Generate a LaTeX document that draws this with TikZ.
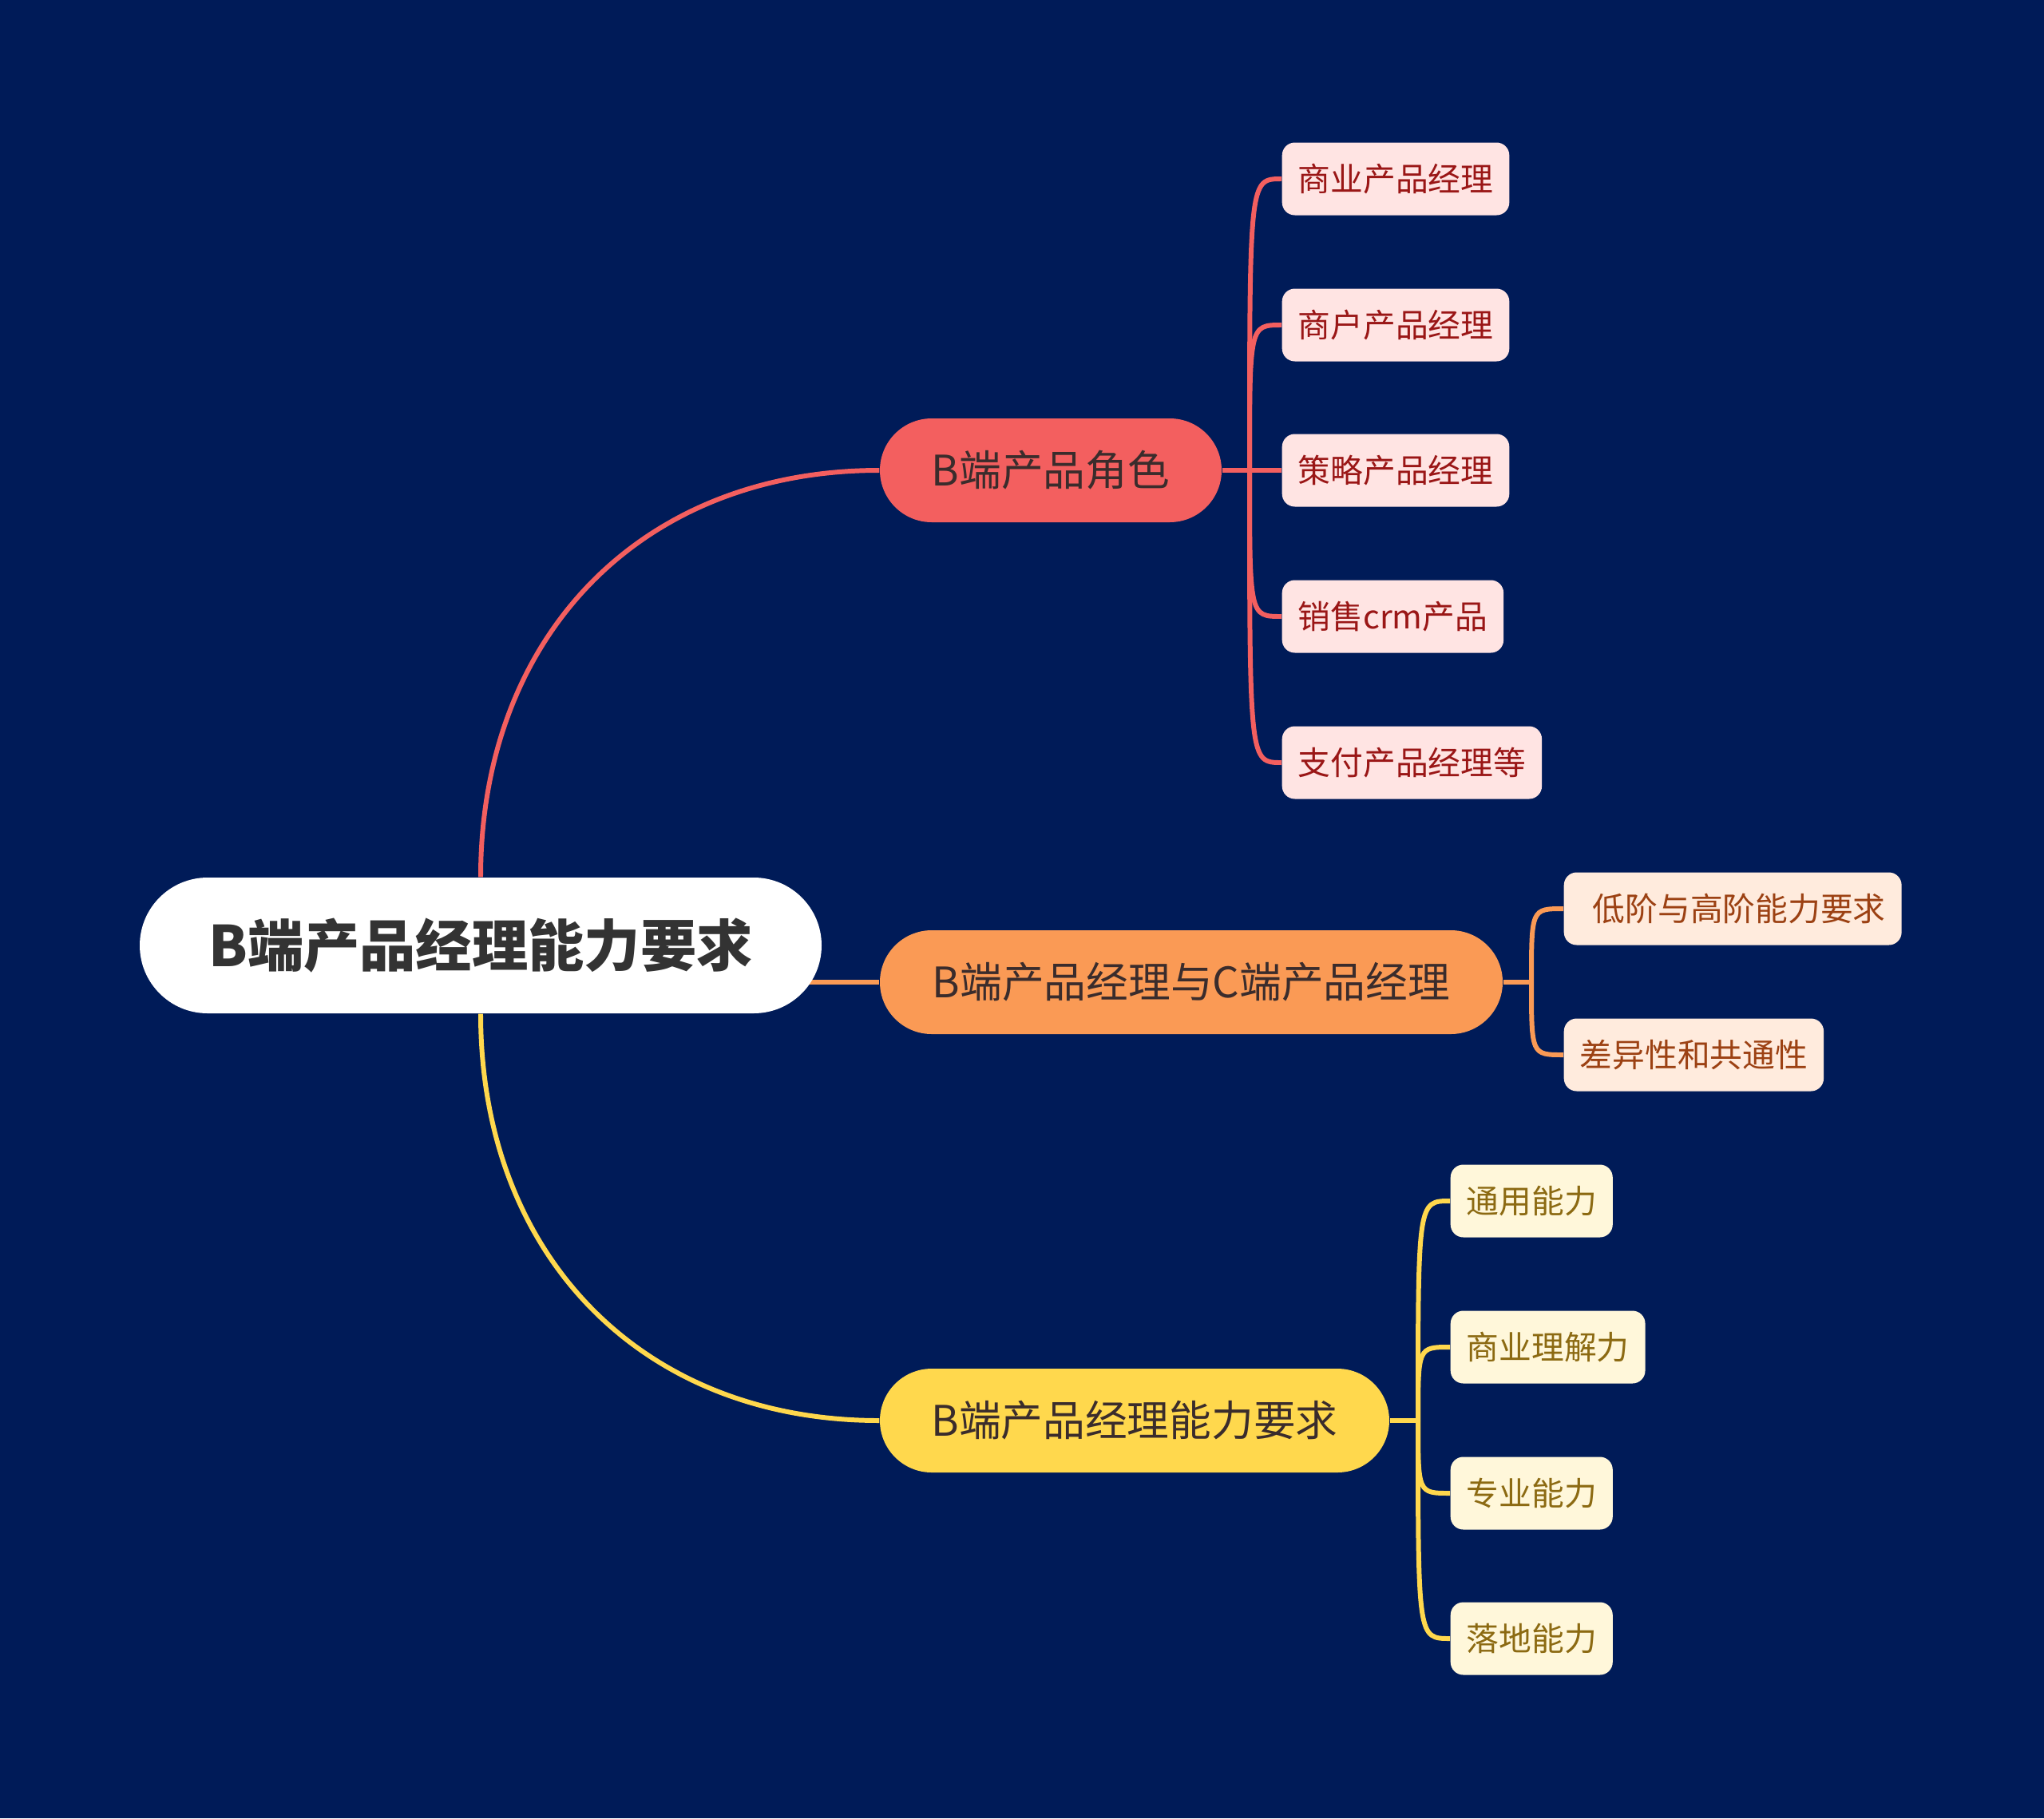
\documentclass[tikz,border=0pt]{standalone}
\usepackage{fontspec}
\setmainfont{Noto Sans CJK SC}
\usetikzlibrary{backgrounds}

\definecolor{navybg}{HTML}{001B58}
\definecolor{rootgray}{HTML}{333333}
\definecolor{topictext}{HTML}{3A2C2C}
\definecolor{redtopic}{HTML}{F35F5F}
\definecolor{orangetopic}{HTML}{FA9A55}
\definecolor{yellowtopic}{HTML}{FFD84D}
\definecolor{redleaf}{HTML}{FFE4E3}
\definecolor{redleaftext}{HTML}{9A1616}
\definecolor{orangeleaf}{HTML}{FFEBDD}
\definecolor{orangeleaftext}{HTML}{9C4113}
\definecolor{yellowleaf}{HTML}{FFF7DA}
\definecolor{yellowleaftext}{HTML}{8C6A12}

\begin{document}
\begin{tikzpicture}[
    rootStyle/.style={rectangle, fill=white, rounded corners=0.85cm, minimum width=8.54cm, minimum height=1.70cm, font=\fontsize{20}{24}\selectfont\bfseries, text=rootgray},
    topic/.style={rectangle, rounded corners=0.65cm, minimum height=1.30cm, align=center, font=\fontsize{15}{18}\selectfont, text=topictext},
    leaf/.style={rectangle, rounded corners=0.16cm, minimum height=0.91cm, inner xsep=0.2cm, anchor=west, font=\fontsize{11.6}{14}\selectfont},
    link/.style={line width=1.7pt}
]

% ----------------------------------------------------
% Root
% ----------------------------------------------------
\node[rootStyle] (root) at (6.02, -11.84) {B端产品经理能力要求};

% ----------------------------------------------------
% Level 1 (three main topics)
% ----------------------------------------------------
\node[topic, fill=redtopic, minimum width=4.28cm] (roles) at (13.16, -5.89) {B端产品角色};
\node[topic, fill=orangetopic, minimum width=7.80cm] (compare) at (14.92, -12.30) {B端产品经理与C端产品经理};
\node[topic, fill=yellowtopic, minimum width=6.38cm] (ability) at (14.21, -17.79) {B端产品经理能力要求};

% ----------------------------------------------------
% Level 2 (leaves)
% ----------------------------------------------------
\node[leaf, fill=redleaf, text=redleaftext] (r1) at (16.05, -2.24) {商业产品经理};
\node[leaf, fill=redleaf, text=redleaftext] (r2) at (16.05, -4.07) {商户产品经理};
\node[leaf, fill=redleaf, text=redleaftext] (r3) at (16.05, -5.89) {策略产品经理};
\node[leaf, fill=redleaf, text=redleaftext] (r4) at (16.05, -7.72) {销售crm产品};
\node[leaf, fill=redleaf, text=redleaftext] (r5) at (16.05, -9.55) {支付产品经理等};

\node[leaf, fill=orangeleaf, text=orangeleaftext] (o1) at (19.58, -11.38) {\hspace{0.16cm}低阶与高阶能力要求};
\node[leaf, fill=orangeleaf, text=orangeleaftext] (o2) at (19.58, -13.21) {差异性和共通性};

\node[leaf, fill=yellowleaf, text=yellowleaftext] (y1) at (18.16, -15.04) {通用能力};
\node[leaf, fill=yellowleaf, text=yellowleaftext] (y2) at (18.16, -16.87) {商业理解力};
\node[leaf, fill=yellowleaf, text=yellowleaftext] (y3) at (18.16, -18.70) {专业能力};
\node[leaf, fill=yellowleaf, text=yellowleaftext] (y4) at (18.16, -20.52) {落地能力};

\coordinate (rhub) at (15.65, -5.89);
\coordinate (ohub) at (19.18, -12.30);
\coordinate (yhub) at (17.76, -17.79);

% ----------------------------------------------------
% Background and connectors (behind the nodes)
% ----------------------------------------------------
\begin{scope}[on background layer]
\fill[navybg] (0, 0) rectangle (25.60, -22.77);

\draw[link, redtopic] (root.north) .. controls +(0, 3) and +(-3, 0) .. (roles.west);
\draw[link, orangetopic] (root.center |- compare.west) -- (compare.west);
\draw[link, yellowtopic] (root.south) .. controls +(0, -3) and +(-3, 0) .. (ability.west);

\draw[link, redtopic] (roles.east) -- (rhub);
\foreach \c in {r1, r2, r3, r4, r5}
    \draw[link, redtopic] (rhub) .. controls (rhub |- \c.west) .. (\c.west);

\draw[link, orangetopic] (compare.east) -- (ohub);
\foreach \c in {o1, o2}
    \draw[link, orangetopic] (ohub) .. controls (ohub |- \c.west) .. (\c.west);

\draw[link, yellowtopic] (ability.east) -- (yhub);
\foreach \c in {y1, y2, y3, y4}
    \draw[link, yellowtopic] (yhub) .. controls (yhub |- \c.west) .. (\c.west);
\end{scope}

\useasboundingbox (0, 0) rectangle (25.60, -22.77);

\end{tikzpicture}
\end{document}
